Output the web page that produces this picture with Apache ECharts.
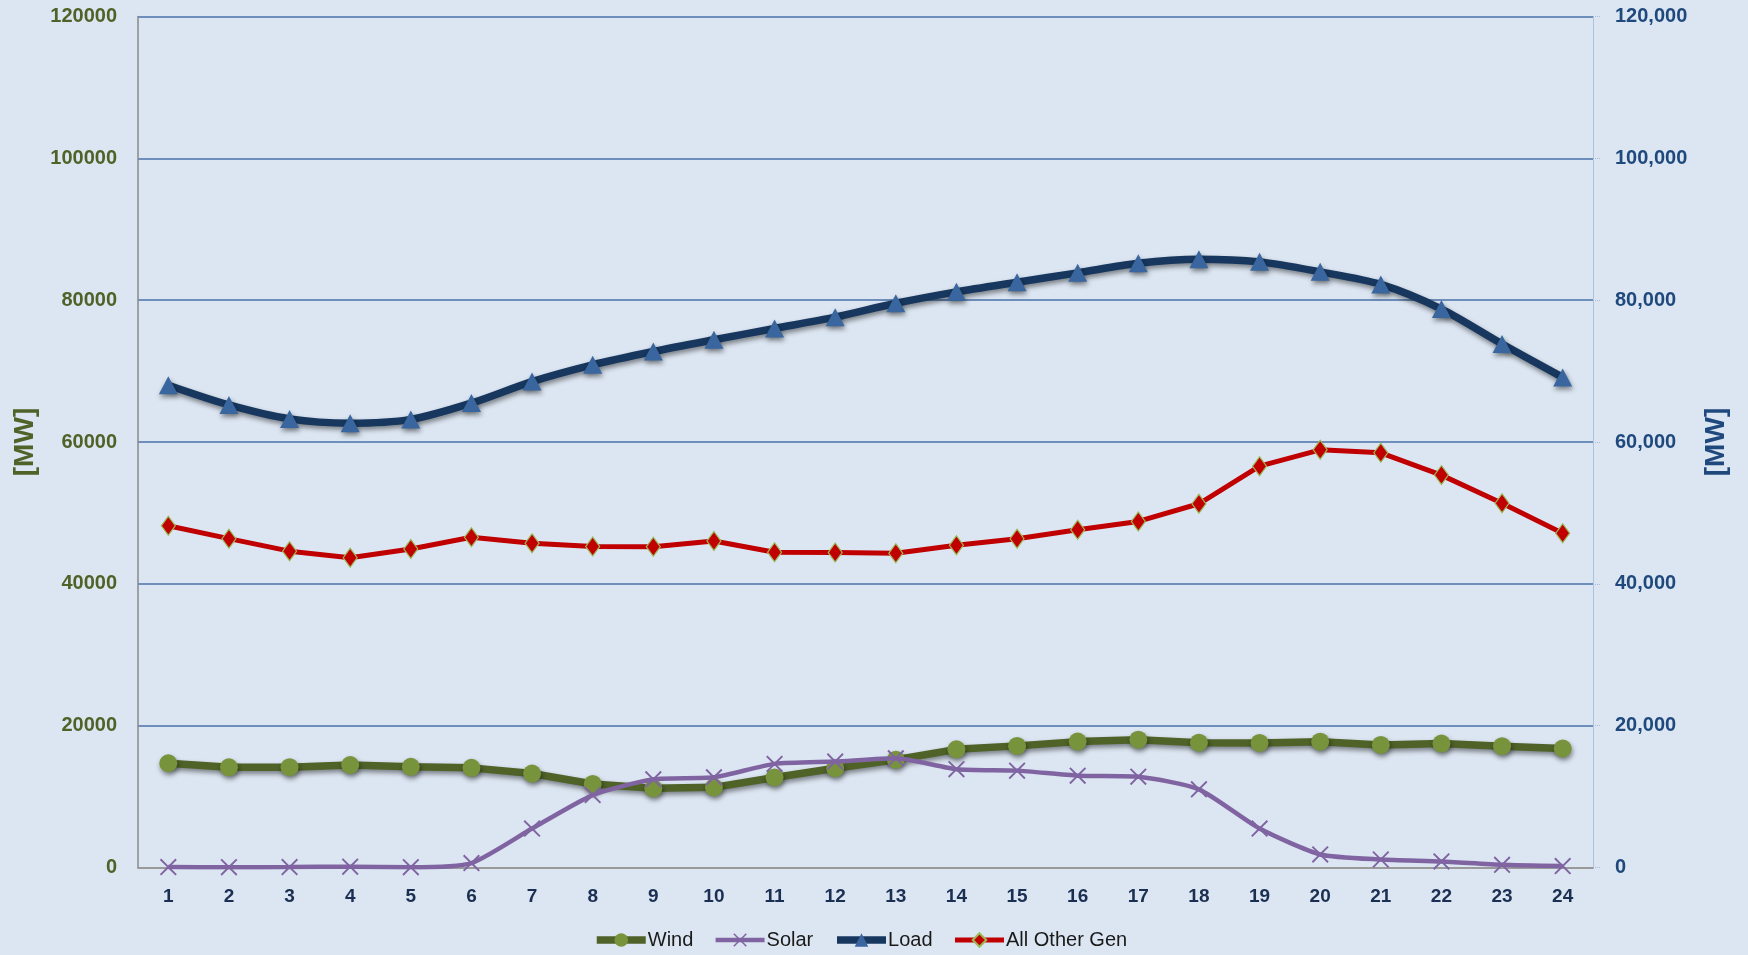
<!DOCTYPE html>
<html>
<head>
<meta charset="utf-8">
<script src="https://cdn.jsdelivr.net/npm/echarts@6/dist/echarts.min.js"></script>
<style>
html,body{margin:0;padding:0;background:#DCE6F2;}
#chart{width:1748px;height:955px;}
</style>
</head>
<body>
<div id="chart"></div>
<script>
const hours = ['1','2','3','4','5','6','7','8','9','10','11','12','13','14','15','16','17','18','19','20','21','22','23','24'];
const wind = [14700,14130,14150,14450,14200,14050,13250,11780,11160,11300,12700,13990,15200,16660,17150,17750,18030,17600,17560,17740,17280,17480,17100,16780];
const solar = [60,40,60,120,40,620,5490,10210,12440,12720,14610,14940,15400,13860,13660,12950,12810,11020,5490,1840,1130,850,380,200];
const load = [68000,65220,63260,62650,63190,65490,68520,70880,72760,74420,76010,77600,79560,81170,82530,83850,85210,85760,85400,83990,82220,78740,73830,69110];
const otherGen = [48190,46370,44610,43670,44920,46570,45710,45280,45230,46050,44450,44430,44300,45430,46370,47640,48800,51290,56590,58900,58470,55330,51360,47120];
const leftTicks = [0,20000,40000,60000,80000,100000,120000];

const chart = echarts.init(document.getElementById('chart'));
const shadow = {shadowColor:'rgba(0,0,0,0.45)', shadowBlur:5, shadowOffsetX:1, shadowOffsetY:3};
const xPath = 'path://M0,0.8L0.8,0L5,4.2L9.2,0L10,0.8L5.8,5L10,9.2L9.2,10L5,5.8L0.8,10L0,9.2L4.2,5Z';
chart.setOption({
  backgroundColor:'#DCE6F2',
  animation:false,
  textStyle:{fontFamily:'Liberation Sans'},
  grid:{left:138,right:155,top:16.5,bottom:87.5,containLabel:false},
  legend:{
    bottom:0, left:588,
    itemWidth:49, itemHeight:17, itemGap:20,
    lineStyle:{width:'inherit',shadowBlur:0,shadowOffsetX:0,shadowOffsetY:0},
    itemStyle:{shadowBlur:0,shadowOffsetX:0,shadowOffsetY:0},
    textStyle:{fontSize:20,color:'#1a1a1a',fontFamily:'Liberation Sans',padding:[0,0,0,-3]},
    data:['Wind','Solar','Load','All Other Gen']
  },
  xAxis:{
    type:'category', data:hours, boundaryGap:true,
    axisLine:{lineStyle:{color:'#9A9A9A',width:2}},
    axisTick:{show:false},
    axisLabel:{color:'#1B2F52',fontWeight:'bold',fontSize:19,margin:20}
  },
  yAxis:[
    {type:'value',min:leftTicks[0],max:leftTicks[leftTicks.length-1],interval:20000,
     name:'[MW]',nameLocation:'middle',nameGap:96,
     nameTextStyle:{color:'#4F6228',fontSize:28,fontWeight:'bold'},
     axisLine:{show:true,lineStyle:{color:'#8A8A8A',width:1.5}},
     axisTick:{show:false},
     axisLabel:{color:'#4F6228',fontWeight:'bold',fontSize:20,margin:21,formatter:v=>String(v)},
     splitLine:{lineStyle:{color:'#4A70A8',width:1.5}}
    },
    {type:'value',min:leftTicks[0],max:leftTicks[leftTicks.length-1],interval:20000,position:'right',
     name:'[MW]',nameLocation:'middle',nameGap:109,
     nameTextStyle:{color:'#1F497D',fontSize:28,fontWeight:'bold'},
     axisLine:{show:true,lineStyle:{color:'#A9BEDC',width:1,type:'dotted'}},
     axisTick:{show:true,length:7,lineStyle:{color:'#A9BEDC',type:'dotted'}},
     axisLabel:{color:'#1F497D',fontWeight:'bold',fontSize:20,margin:22,
       formatter:v=>v.toLocaleString('en-US')},
     splitLine:{show:false}
    }
  ],
  series:[
    {name:'Wind',type:'line',yAxisIndex:0,data:wind,
     symbol:'circle',symbolSize:18,
     lineStyle:Object.assign({color:'#4F6228',width:7.5},shadow),
     itemStyle:Object.assign({color:'#77933C'},shadow),
     z:3},
    {name:'Solar',type:'line',yAxisIndex:0,data:solar,smooth:0.2,
     symbol:xPath,symbolSize:17,
     lineStyle:{color:'#8064A2',width:4.5},
     itemStyle:{color:'#8064A2'},
     z:4},
    {name:'Load',type:'line',yAxisIndex:1,data:load,smooth:0.3,
     symbol:'triangle',symbolSize:[19,18],
     lineStyle:Object.assign({color:'#17375E',width:7.5},shadow),
     itemStyle:Object.assign({color:'#3A66A0'},shadow),
     z:3},
    {name:'All Other Gen',type:'line',yAxisIndex:1,data:otherGen,
     symbol:'diamond',symbolSize:[14,19],
     lineStyle:{color:'#C00000',width:5},
     itemStyle:{color:'#C00000',borderColor:'#9BBB59',borderWidth:1.2},
     z:3}
  ]
});
</script>
</body>
</html>
